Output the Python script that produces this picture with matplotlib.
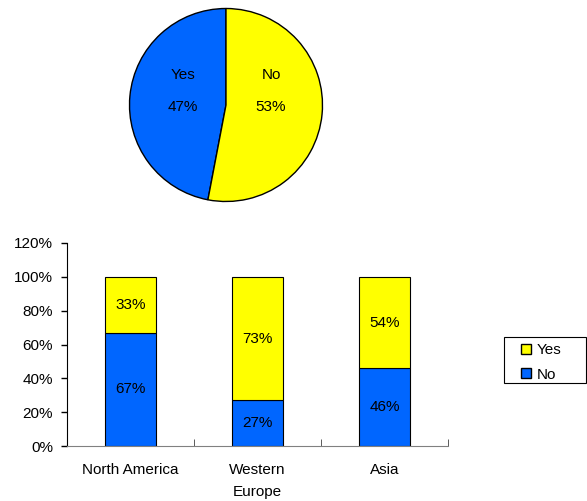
import matplotlib

matplotlib.use("Agg")
import matplotlib.pyplot as plt
from matplotlib.patches import Patch, Rectangle
from matplotlib.ticker import FixedLocator, PercentFormatter

plt.rcParams["font.family"] = ["Liberation Sans", "DejaVu Sans"]
plt.rcParams["font.size"] = 11

# pie data
pie_labels = ["Yes", "No"]
pie_values = [47, 53]

# stacked bar data
regions = ["North America", "Western\nEurope", "Asia"]
no_pct = [67, 27, 46]
yes_pct = [33, 73, 54]

BLUE = "#0066FF"
YELLOW = "#FFFF00"

fig = plt.figure(figsize=(5.87, 5.01), dpi=100)

# --- pie ---
r = 96.5
cx, cy = 226, 105
pax = fig.add_axes([(cx - r) / 587, 1 - (cy + r) / 501, 2 * r / 587, 2 * r / 501])
pax.pie(pie_values, colors=[BLUE, YELLOW], startangle=90, counterclock=True,
        wedgeprops=dict(edgecolor="black", linewidth=1.0))
pax.set_xlim(-1.0, 1.0)
pax.set_ylim(-1.0, 1.0)
label_x = [-0.446, 0.466]
for lx, name, v in zip(label_x, pie_labels, pie_values):
    pax.text(lx, 0.31, name, ha="center", va="center")
    pax.text(lx, -0.02, f"{v}%", ha="center", va="center")

# --- stacked bars ---
ax = fig.add_axes([67 / 587, 55 / 501, 381 / 587, 203 / 501])
x = range(len(regions))
ax.bar(x, no_pct, width=0.4, color=BLUE, edgecolor="black", linewidth=0.8)
ax.bar(x, yes_pct, width=0.4, bottom=no_pct, color=YELLOW, edgecolor="black", linewidth=0.8)
for i, (n, y) in enumerate(zip(no_pct, yes_pct)):
    ax.text(i, n / 2, f"{n}%", ha="center", va="center")
    ax.text(i, n + y / 2, f"{y}%", ha="center", va="center")

ax.set_xlim(-0.5, len(regions) - 0.5)
ax.set_ylim(0, 120)
ax.set_yticks(range(0, 121, 20))
ax.yaxis.set_major_formatter(PercentFormatter(decimals=0))
ax.set_xticks(list(x))
ax.set_xticklabels(regions, linespacing=1.75)
ax.xaxis.set_minor_locator(FixedLocator([0.5, 1.5, 2.5]))
ax.tick_params(axis="x", which="major", length=0, pad=12)
ax.tick_params(axis="x", which="minor", direction="in", length=5, color="#404040")
ax.tick_params(axis="y", direction="out", length=4, width=1, pad=6)
for s in ("top", "right"):
    ax.spines[s].set_visible(False)
ax.spines["bottom"].set_color("#808080")
ax.spines["left"].set_color("black")

# legend: fixed frame drawn as a figure patch, entries inside it
fig.add_artist(Rectangle((504 / 587, 1 - 383 / 501), 82 / 587, 46 / 501,
                         transform=fig.transFigure, facecolor="white",
                         edgecolor="black", linewidth=0.8))
handles = [Patch(facecolor=YELLOW, edgecolor="black", label="Yes"),
           Patch(facecolor=BLUE, edgecolor="black", label="No")]
fig.legend(handles=handles, loc="center left", bbox_to_anchor=(521 / 587, 1 - 362.5 / 501),
           frameon=False, handlelength=0.65, handleheight=0.65, handletextpad=0.35,
           borderpad=0, labelspacing=0.68, borderaxespad=0)

fig.savefig("out.png", dpi=100)
